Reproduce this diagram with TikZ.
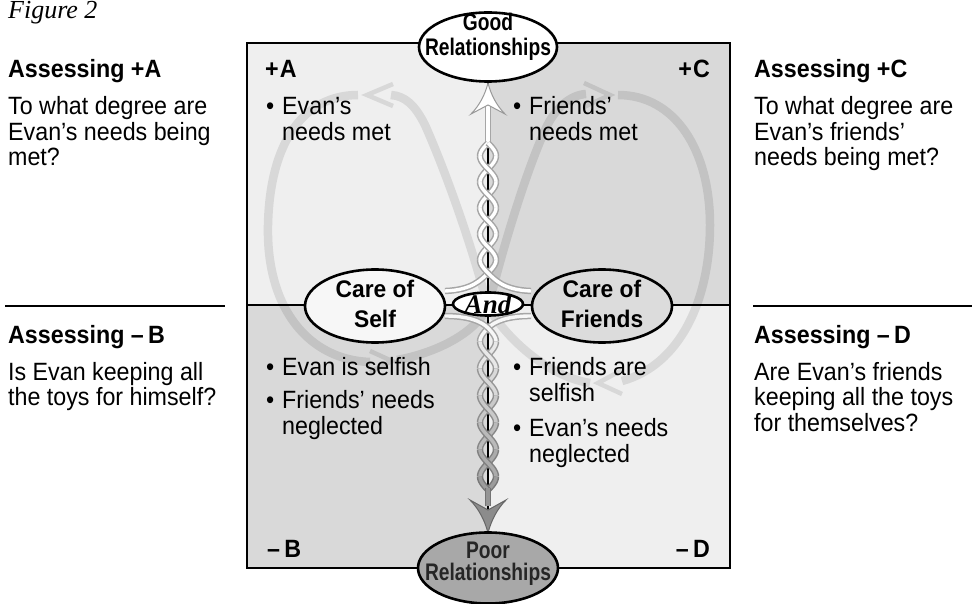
\documentclass[tikz,border=0pt]{standalone}
\usepackage{fontspec}
\setmainfont[FakeStretch=0.93]{Liberation Sans}
\newfontfamily\relfont[FakeStretch=0.8]{Liberation Sans}
\newfontfamily\carefont[FakeStretch=0.95]{Liberation Sans}
\newfontfamily\figfont{Liberation Serif}
\usetikzlibrary{shapes.geometric}
\definecolor{qlight}{HTML}{EFEFEF}
\definecolor{qdark}{HTML}{D9D9D9}
\definecolor{bandlight}{HTML}{D8D8D8}
\definecolor{banddark}{HTML}{C3C3C3}
\definecolor{carefr}{HTML}{DCDCDC}
\definecolor{poorfill}{HTML}{A8A8A8}
\tikzset{
  txt/.style={anchor=base west, inner sep=0pt, font=\fontsize{25}{25.5}\selectfont},
  hd/.style={anchor=base west, inner sep=0pt, font=\fontsize{25}{25.5}\selectfont\bfseries},
  qlab/.style={inner sep=0pt, font=\fontsize{25}{25.5}\selectfont\bfseries},
  eltxt/.style={anchor=base, inner sep=0pt, font=\fontsize{24}{24}\selectfont\relfont\bfseries},
  caretxt/.style={anchor=base, inner sep=0pt, font=\fontsize{24}{24}\selectfont\carefont\bfseries},
  ell/.style={ellipse, draw, line width=2.6pt, inner sep=0pt},
  band/.style={line width=8.5pt},
  chev/.style={line width=4.5pt, line join=miter},
}
\newcommand\bul{\makebox[16pt][l]{•}}
\newcommand\bandpaths{%
  \draw[band] (486,300) .. controls (470,240) and (445,170) .. (425,125) .. controls (415,105) and (405,96) .. (391,95);
  \draw[chev] (393,84) -- (367,95) -- (393,106);
  \draw[band] (358,95) .. controls (305,95) and (270,140) .. (268,225) .. controls (266,310) and (310,360) .. (370,362);
  \draw[chev] (370,351) -- (392,361) -- (370,372);
  \draw[band] (397,360) .. controls (440,352) and (474,332) .. (486,310);
  \draw[band] (490,300) .. controls (505,240) and (527,170) .. (545,130) .. controls (555,108) and (570,95) .. (586,94);
  \draw[chev] (584,83) -- (610,95) -- (584,107);
  \draw[band] (618,95) .. controls (675,95) and (710,150) .. (710,225) .. controls (710,300) and (680,365) .. (622,381);
  \draw[chev] (622,370) -- (598,383) -- (622,394);
  \draw[band] (590,383) .. controls (545,376) and (505,335) .. (490,310);
}
% sign, Y0, P, from, to, outline, fill, prefix, suffix
\newcommand\hstrand[9]{%
  \draw[color=#6, line width=6.4pt] #8 plot[domain=#4:#5, samples=16, variable=\t] ({488+#1*8*sin((\t-#2)/#3*180)},{\t}) #9;
  \draw[color=#7, line width=3.4pt] #8 plot[domain=#4:#5, samples=16, variable=\t] ({488+#1*8*sin((\t-#2)/#3*180)},{\t}) #9;
}
\begin{document}
\begin{tikzpicture}[x=1pt,y=-1pt]
\useasboundingbox (0,0) rectangle (972,604);
% quadrant fills
\fill[qlight] (247,43) rectangle (488,305);
\fill[qdark] (488,43) rectangle (730,305);
\fill[qdark] (247,305) rectangle (488,568);
\fill[qlight] (488,305) rectangle (730,568);
% gray loop bands
\begin{scope}
  \clip (247,43) rectangle (488,305) (488,305) rectangle (730,568);
  \begin{scope}[color=bandlight]\bandpaths\end{scope}
\end{scope}
\begin{scope}
  \clip (488,43) rectangle (730,305) (247,305) rectangle (488,568);
  \begin{scope}[color=banddark]\bandpaths\end{scope}
\end{scope}
% box
\draw[line width=2pt] (247,43) rectangle (730,568);
\draw[line width=2pt] (247,305) -- (730,305);
% side separators
\draw[line width=1.6pt] (5,306) -- (225,306);
\draw[line width=1.6pt] (753,306) -- (972,306);
% ellipse node positions (drawn later on top)
\path (488,47) coordinate (goodc) (488,568) coordinate (poorc) (488,304) coordinate (andc);
\node[ell, minimum width=70pt, minimum height=23pt, draw=none] (and0) at (andc) {};
\node[ell, minimum width=138pt, minimum height=69pt, draw=none] (good0) at (goodc) {};
\node[ell, minimum width=140pt, minimum height=71pt, draw=none] (poor0) at (poorc) {};
% central black line
\draw[line width=2.4pt] (good0.south) -- (and0.north);
\draw[line width=2.4pt] (and0.south) -- (poor0.north);
% top shaft
\draw[black!35, line width=6.4pt] (488,100) -- (488,143);
\draw[white, line width=3.4pt] (488,100) -- (488,143);
% top helix
\foreach \k in {0,...,4} {
  \pgfmathsetmacro\ya{max(143,143+(\k-0.5)*26)}
  \pgfmathsetmacro\yb{143+(\k+0.5)*26}
  \ifodd\k\relax
    \hstrand{1}{143}{26}{\ya}{\yb}{black!35}{white}{}{}
    \hstrand{-1}{143}{26}{\ya}{\yb}{black!35}{white}{}{}
  \else
    \hstrand{-1}{143}{26}{\ya}{\yb}{black!35}{white}{}{}
    \hstrand{1}{143}{26}{\ya}{\yb}{black!35}{white}{}{}
  \fi
}
\hstrand{1}{143}{26}{260}{273}{black!35}{white}{}{.. controls (481,280) and (472,290) .. (445,291)}
\hstrand{-1}{143}{26}{260}{273}{black!35}{white}{}{.. controls (495,280) and (504,290) .. (531,291)}
% top arrowhead
\draw[black!40, fill=white, line width=1pt] (488,83) .. controls (485,95) and (479,106) .. (471,114) -- (488,105) -- (505,114) .. controls (497,106) and (491,95) .. (488,83) -- cycle;
% bottom helix
\hstrand{-1}{328}{27}{328}{341.5}{black!35}{black!3}{(531,316) .. controls (508,316) and (495,321) .. (488,328) --}{}
\hstrand{1}{328}{27}{328}{341.5}{black!35}{black!3}{(445,316) .. controls (468,316) and (481,321) .. (488,328) --}{}
\foreach \k in {1,...,6} {
  \pgfmathsetmacro\ya{328+(\k-0.5)*27}
  \pgfmathsetmacro\yb{min(490,328+(\k+0.5)*27)}
  \pgfmathtruncatemacro\fo{35+3*\k}
  \pgfmathtruncatemacro\ff{3+6*\k}
  \ifodd\k\relax
    \hstrand{1}{328}{27}{\ya}{\yb}{black!\fo}{black!\ff}{}{}
    \hstrand{-1}{328}{27}{\ya}{\yb}{black!\fo}{black!\ff}{}{}
  \else
    \hstrand{-1}{328}{27}{\ya}{\yb}{black!\fo}{black!\ff}{}{}
    \hstrand{1}{328}{27}{\ya}{\yb}{black!\fo}{black!\ff}{}{}
  \fi
}
\draw[black!55, line width=6.4pt] (488,488) -- (488,506);
\draw[black!42, line width=3.4pt] (488,488) -- (488,506);
\draw[black!60, fill=black!45, line width=1pt] (488,533) .. controls (485,521) and (479,509) .. (470,500) -- (488,510) -- (506,500) .. controls (497,509) and (491,521) .. (488,533) -- cycle;
% ellipses
\node[ell, fill=white, minimum width=138pt, minimum height=69pt] (good) at (goodc) {};
\node[ell, fill=poorfill, minimum width=140pt, minimum height=71pt] (poor) at (poorc) {};
\node[ell, fill=white!97!black, minimum width=140pt, minimum height=73pt] (self) at (375,306) {};
\node[ell, fill=carefr, minimum width=140pt, minimum height=73pt] (friends) at (602,306) {};
\node[ell, fill=white, minimum width=70pt, minimum height=23pt] (and) at (andc) {};
% ellipse texts
\node[eltxt] (goodt1) at (488,31) {Good};
\node[eltxt] (goodt2) at (488,56) {Relationships};
\node[eltxt, text=black!85] (poort1) at (488,558) {Poor};
\node[eltxt, text=black!85] (poort2) at (488,580) {Relationships};
\node[caretxt] (selft1) at (375,298) {Care of};
\node[caretxt] (selft2) at (375,327) {Self};
\node[caretxt] (frt1) at (602,298) {Care of};
\node[caretxt] (frt2) at (602,327) {Friends};
\node[anchor=base, inner sep=0pt, font=\fontsize{27}{27}\selectfont\figfont\bfseries\itshape] (andt) at (488,313) {And};
% quadrant labels
\node[qlab, anchor=base west] (qa) at (265,78) {+\kern1pt A};
\node[qlab, anchor=base east] (qc) at (710,78) {+\kern1pt C};
\node[qlab, anchor=base west] (qb) at (267,557) {–\,B};
\node[qlab, anchor=base east] (qd) at (710,557) {–\,D};
% quadrant texts
\node[txt] (tl1) at (266,115) {\bul Evan’s};
\node[txt] (tl2) at (282,141) {needs met};
\node[txt] (tr1) at (513,115) {\bul Friends’};
\node[txt] (tr2) at (529,141) {needs met};
\node[txt] (bl1) at (266,375) {\bul Evan is selfish};
\node[txt] (bl2) at (266,408) {\bul Friends’ needs};
\node[txt] (bl3) at (282,434) {neglected};
\node[txt] (br1) at (513,375) {\bul Friends are};
\node[txt] (br2) at (529,401) {selfish};
\node[txt] (br3) at (513,436) {\bul Evan’s needs};
\node[txt] (br4) at (529,462) {neglected};
% side texts left
\node[anchor=base west, inner sep=0pt, font=\fontsize{26}{26}\selectfont\figfont\itshape] (fig) at (8,19) {Figure 2};
\node[hd] (ha) at (8,78) {Assessing +A};
\node[txt] (ta1) at (8,115) {To what degree are};
\node[txt] (ta2) at (8,140.5) {Evan’s needs being};
\node[txt] (ta3) at (8,166) {met?};
\node[hd] (hb) at (8,343) {Assessing –\,B};
\node[txt] (tb1) at (8,380) {Is Evan keeping all};
\node[txt] (tb2) at (8,405.5) {the toys for himself?};
% side texts right
\node[hd] (hc) at (754,78) {Assessing +C};
\node[txt] (tc1) at (754,115) {To what degree are};
\node[txt] (tc2) at (754,140.5) {Evan’s friends’};
\node[txt] (tc3) at (754,166) {needs being met?};
\node[hd] (hdd) at (754,343) {Assessing –\,D};
\node[txt] (td1) at (754,380) {Are Evan’s friends};
\node[txt] (td2) at (754,405.5) {keeping all the toys};
\node[txt] (td3) at (754,431) {for themselves?};
\end{tikzpicture}
\end{document}
